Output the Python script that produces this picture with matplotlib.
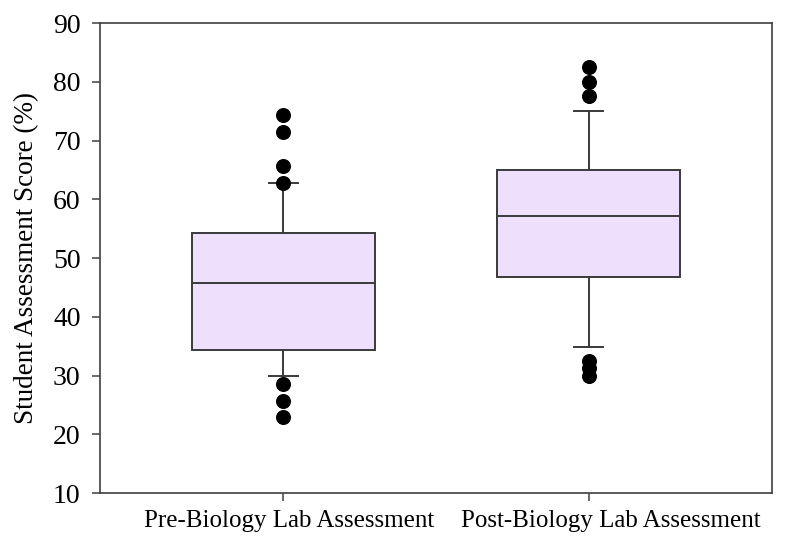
import matplotlib
matplotlib.use("Agg")
import matplotlib.pyplot as plt
from matplotlib.transforms import ScaledTranslation

categories = ["Pre-Biology Lab Assessment", "Post-Biology Lab Assessment"]
q1 = [34.3, 46.8]
median = [45.7, 57.2]
q3 = [54.3, 64.9]
whisker_low = [30.0, 34.9]
whisker_high = [62.8, 75.0]
outliers = [
    [74.3, 71.4, 65.7, 62.8, 28.6, 25.7, 22.9],
    [82.5, 80.0, 77.5, 32.5, 31.2, 30.0],
]
yticks = [10, 20, 30, 40, 50, 60, 70, 80, 90]

plt.rcParams['font.family'] = ['Liberation Serif', 'DejaVu Serif']

fig = plt.figure(figsize=(7.9, 5.47), dpi=100)
ax = fig.add_axes([0.1266, 0.0987, 0.8506, 0.8592])

stats = []
for i in range(len(categories)):
    stats.append(dict(med=median[i], q1=q1[i], q3=q3[i],
                      whislo=whisker_low[i], whishi=whisker_high[i],
                      fliers=outliers[i], label=categories[i]))

line_col = '#3a3a3a'
ax.bxp(stats, positions=[1, 2], widths=0.6, patch_artist=True,
       capwidths=0.094,
       boxprops=dict(facecolor='#EEE0FD', edgecolor=line_col, linewidth=1.4),
       medianprops=dict(color=line_col, linewidth=1.4),
       whiskerprops=dict(color=line_col, linewidth=1.4),
       capprops=dict(color=line_col, linewidth=1.4),
       flierprops=dict(marker='o', markerfacecolor='black', markeredgecolor='black',
                       markersize=9.8, linestyle='none'))

ax.set_xlim(0.4, 2.6)
ax.set_ylim(10, 90)
ax.set_yticks(yticks)
ax.set_xticks([1, 2])
ax.set_xticklabels(categories)
for s in ax.spines.values():
    s.set_color('#404040')
    s.set_linewidth(1.2)
ax.tick_params(axis='both', direction='out', length=6, width=1.1, color='#404040',
               labelcolor='black')
ax.tick_params(axis='y', pad=8, labelsize=20)
ax.tick_params(axis='x', pad=6, labelsize=18)
ax.set_ylabel('Student Assessment Score (%)', fontsize=19.5, labelpad=10)

# small horizontal offsets of the category labels, as in the reference
for lab, dx in zip(ax.get_xticklabels(), [6, 22]):
    lab.set_transform(lab.get_transform() + ScaledTranslation(dx / 100, 0, fig.dpi_scale_trans))

fig.savefig('out.png', dpi=100)
